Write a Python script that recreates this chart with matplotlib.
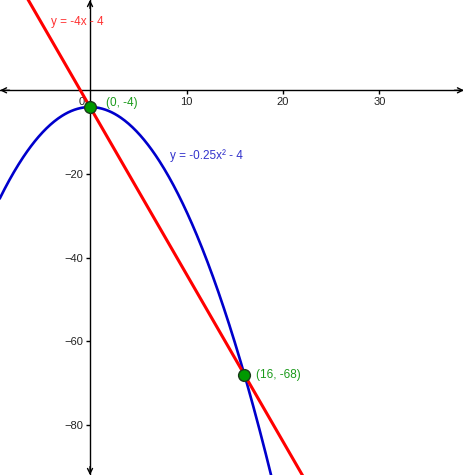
import numpy as np
import matplotlib.pyplot as plt

plt.rcParams['font.family'] = ['Liberation Sans', 'DejaVu Sans']

# view window (graph units)
x_min, x_max = -9.33, 38.76
y_min, y_max = -92.0, 21.6

# line y = m*x + b
line_m, line_b = -4, -4
# parabola y = a*x^2 + c
parab_a, parab_c = -0.25, -4

# intersection points
pts_x = [0, 16]
pts_y = [-4, -68]
pts_labels = ["(0, -4)", "(16, -68)"]

x_ticks = [10, 20, 30]
y_ticks = [-80, -60, -40, -20]

fig = plt.figure(figsize=(4.64, 4.75), dpi=100)
ax = fig.add_axes([0, 0, 1, 1])
ax.set_xlim(x_min, x_max)
ax.set_ylim(y_min, y_max)

# axes through the origin
for s in ['top', 'right']:
    ax.spines[s].set_visible(False)
ax.spines['left'].set_position('zero')
ax.spines['bottom'].set_position('zero')
for s in ['left', 'bottom']:
    ax.spines[s].set_linewidth(1.0)
    ax.spines[s].set_color('black')

# arrow heads at the ends of the axes
arr = dict(arrowstyle='->', lw=1.0, color='black', mutation_scale=9,
           shrinkA=0, shrinkB=0)
ax.annotate('', xy=(x_max, 0), xytext=(x_max - 1, 0), arrowprops=arr, annotation_clip=False)
ax.annotate('', xy=(x_min, 0), xytext=(x_min + 1, 0), arrowprops=arr, annotation_clip=False)
ax.annotate('', xy=(0, y_max), xytext=(0, y_max - 2), arrowprops=arr, annotation_clip=False)
ax.annotate('', xy=(0, y_min), xytext=(0, y_min + 2), arrowprops=arr, annotation_clip=False)

ax.set_xticks(x_ticks)
ax.set_yticks(y_ticks)
ax.tick_params(axis='both', direction='out', length=3, width=1, labelsize=8,
               labelcolor='#222222', pad=2)
ax.text(-0.5, -1.5, "0", fontsize=8, color='#222222', ha='right', va='top')

# curves
xs = np.linspace(x_min, x_max, 600)
ax.plot(xs, parab_a * xs ** 2 + parab_c, color='#0000cc', lw=1.9, zorder=3)
ax.plot(xs, line_m * xs + line_b, color='#ff0000', lw=2.2, zorder=4)

# labels of the curves
ax.text(-4.0, 16.3, "y = -4x - 4", fontsize=8.5, color='#ff3333', va='center')
ax.text(8.3, -15.5, "y = -0.25x² - 4", fontsize=8.5, color='#3333cc', va='center')

# intersection points
ax.plot(pts_x, pts_y, 'o', ms=8.5, mfc='#009900', mec='#1a3a1a', mew=1, zorder=5)
label_offsets = [(16, 4), (12, 0)]  # pixels
for px, py, lab, off in zip(pts_x, pts_y, pts_labels, label_offsets):
    ax.annotate(lab, (px, py), xytext=off, textcoords='offset pixels',
                fontsize=8.5, color='#1a9a1a', va='center')

fig.savefig('out.png', dpi=100)
